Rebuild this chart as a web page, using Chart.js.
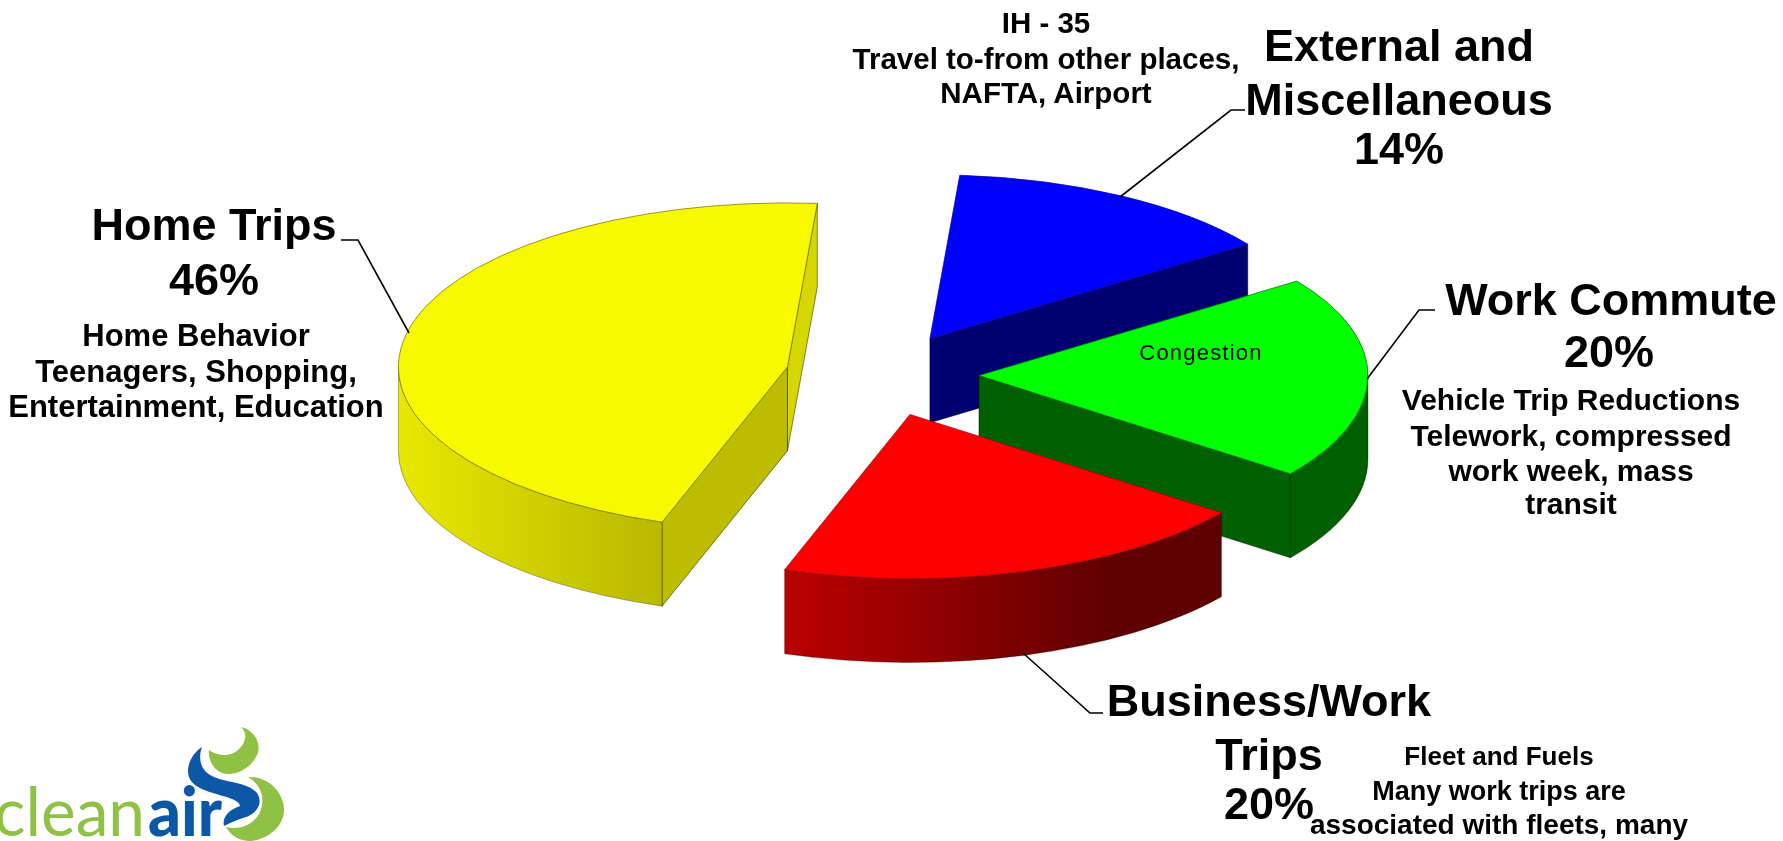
<!DOCTYPE html>
<html>
<head>
<meta charset="utf-8">
<title>Trip shares</title>
<script src="https://cdn.jsdelivr.net/npm/chart.js@4"></script>
<style>
    html, body { margin: 0; padding: 0; background: #fff; overflow: hidden; }
    #wrap { position: relative; width: 1783px; height: 841px; overflow: hidden; }
    #pie, #notes { position: absolute; left: 0; top: 0; }
    #notes text { font-family: "Liberation Sans", Arial, sans-serif; font-weight: bold; text-anchor: middle; fill: #000; }
</style>
</head>
<body>
<div id="wrap">
    <canvas id="pie" width="1783" height="841"></canvas>
    <svg id="notes" width="1783" height="841" xmlns="http://www.w3.org/2000/svg"></svg>
</div>
<script>
const categories = ['Home Trips', 'External and Miscellaneous', 'Work Commute', 'Business/Work Trips'];
const shares = [46, 14, 20, 20];

// text blocks around the pie: [center x, baseline y, font size, text]
const captions = [
    [214, 240, 45, 'Home Trips'],
    [214, 295, 45, '46%'],
    [196, 346, 31, 'Home Behavior'],
    [196, 382, 31, 'Teenagers, Shopping,'],
    [196, 417, 31, 'Entertainment, Education'],
    [1046, 33, 29.5, 'IH - 35'],
    [1046, 69, 29.5, 'Travel to-from other places,'],
    [1046, 103, 29.5, 'NAFTA, Airport'],
    [1399, 61, 45, 'External and'],
    [1399, 115, 45, 'Miscellaneous'],
    [1399, 164, 45, '14%'],
    [1611, 315, 45, 'Work Commute'],
    [1609, 367, 45, '20%'],
    [1571, 410, 30, 'Vehicle Trip Reductions'],
    [1571, 446, 30, 'Telework, compressed'],
    [1571, 481, 30, 'work week, mass'],
    [1571, 514, 30, 'transit'],
    [1269, 716, 45, 'Business/Work'],
    [1269, 770, 45, 'Trips'],
    [1269, 819, 45, '20%'],
    [1499, 765, 26, 'Fleet and Fuels'],
    [1499, 800, 27, 'Many work trips are'],
    [1499, 834, 28, 'associated with fleets, many']
];

// leader lines from the slices to their captions
const leaders = [
    [[409, 333], [358, 240], [341, 240]],
    [[1120, 197], [1231, 110], [1245, 110]],
    [[1367, 379], [1419, 310], [1435, 310]],
    [[1023, 653], [1090, 713], [1103, 713]]
];

const topColors = ['#f8f800', '#0000ff', '#00ff00', '#ff0000'];
const edgeColors = ['#6f6f00', '#0000a0', '#007000', '#a00000'];
const startWall = ['#bdbd00', '#000070', '#006000', '#600000'];
const endWall = ['#d6d600', '#000070', '#006000', '#600000'];
const rimLeft = ['#e8e800', '#000070', '#006000', '#bb0000'];
const rimRight = ['#b8b800', '#000070', '#006000', '#600000'];

const SQUASH = 0.4216;   // tilt of the pie
const DEPTH = 84;        // wall height
const explode = [95.5, 99, 98, 98];   // how far each slice is pulled out

const pie3d = {
    id: 'pie3d',
    beforeDatasetsDraw(chart) {
        const ctx = chart.ctx;
        chart.getDatasetMeta(0).data.forEach((arc, i) => {
            const mid = (arc.startAngle + arc.endAngle) / 2;
            const cx = arc.x + Math.cos(mid) * explode[i];
            const cy = arc.y + Math.sin(mid) * explode[i] * SQUASH;
            const r = arc.outerRadius;
            const ry = r * SQUASH;
            const px = a => cx + Math.cos(a) * r;
            const py = a => cy + Math.sin(a) * ry;

            ctx.save();
            ctx.lineWidth = 1;
            ctx.strokeStyle = 'rgba(0,0,0,0.45)';

            const cutWall = (a, color) => {
                ctx.beginPath();
                ctx.moveTo(cx, cy);
                ctx.lineTo(px(a), py(a));
                ctx.lineTo(px(a), py(a) + DEPTH);
                ctx.lineTo(cx, cy + DEPTH);
                ctx.closePath();
                ctx.fillStyle = color;
                ctx.fill();
                ctx.stroke();
            };
            if (Math.cos(arc.endAngle) > 0) cutWall(arc.endAngle, endWall[i]);
            if (Math.cos(arc.startAngle) < 0) cutWall(arc.startAngle, startWall[i]);

            // outer rim, only the part that faces the viewer
            const tau = Math.PI * 2;
            let a1 = arc.startAngle, a2 = arc.endAngle;
            while (a1 > Math.PI) { a1 -= tau; a2 -= tau; }
            while (a1 < -Math.PI) { a1 += tau; a2 += tau; }
            a1 = Math.max(a1, 0);
            a2 = Math.min(a2, Math.PI);
            if (a2 > a1) {
                const x1 = Math.min(px(a1), px(a2));
                const x2 = Math.max(px(a1), px(a2));
                const grad = ctx.createLinearGradient(x1, 0, x2 - (i === 3 ? 115 : 0), 0);
                grad.addColorStop(0, rimLeft[i]);
                grad.addColorStop(1, rimRight[i]);
                ctx.beginPath();
                ctx.ellipse(cx, cy, r, ry, 0, a1, a2);
                ctx.ellipse(cx, cy + DEPTH, r, ry, 0, a2, a1, true);
                ctx.closePath();
                ctx.fillStyle = grad;
                ctx.fill();
                ctx.strokeStyle = 'rgba(0,0,0,0.3)';
                ctx.stroke();
            }

            // top face is the library's own arc, squashed and moved out
            ctx.translate(cx, cy);
            ctx.scale(1, SQUASH);
            ctx.translate(-arc.x, -arc.y);
            arc.draw(ctx);
            ctx.restore();
        });
        return false;
    },
    afterDraw(chart) {
        const ctx = chart.ctx;
        ctx.save();
        ctx.strokeStyle = '#000';
        ctx.lineWidth = 1.6;
        leaders.forEach(pts => {
            ctx.beginPath();
            pts.forEach((p, i) => i ? ctx.lineTo(p[0], p[1]) : ctx.moveTo(p[0], p[1]));
            ctx.stroke();
        });
        ctx.restore();
    }
};

new Chart(document.getElementById('pie'), {
    type: 'pie',
    data: {
        labels: categories,
        datasets: [{
            data: shares,
            backgroundColor: topColors,
            borderColor: edgeColors,
            borderWidth: 1
        }]
    },
    options: {
        responsive: false,
        animation: false,
        rotation: 198.8,
        radius: 389,
        layout: { padding: { left: 0, right: 21, top: 0, bottom: 91 } },
        plugins: { legend: { display: false }, tooltip: { enabled: false } }
    },
    plugins: [pie3d]
});

// captions
const svg = document.getElementById('notes');
const NS = 'http://www.w3.org/2000/svg';
captions.forEach(c => {
    const t = document.createElementNS(NS, 'text');
    t.setAttribute('x', c[0]);
    t.setAttribute('y', c[1]);
    t.setAttribute('font-size', c[2]);
    t.textContent = c[3];
    svg.appendChild(t);
});
const congestion = document.createElementNS(NS, 'text');
congestion.setAttribute('x', 1201);
congestion.setAttribute('y', 360);
congestion.setAttribute('font-size', 22);
congestion.setAttribute('style', 'font-weight:normal;letter-spacing:1.2px');
congestion.textContent = 'Congestion';
svg.appendChild(congestion);

// logo
svg.insertAdjacentHTML('beforeend', `
    <path fill="#8fc144" d="M241,727 C255,730 262,745 257,755 C250,770 232,778 220,772 C212,768 208,758 209,750 C215,755 230,758 238,750 C246,743 248,733 241,727Z"/>
    <path fill="#8fc144" d="M248,777 C268,776 284,792 284,810 C284,826 268,840 250,841 C240,841 231,836 226,827 C238,830 252,826 259,814 C266,800 262,785 248,777Z"/>
    <path fill="#0c58a6" d="M202,747 C198,758 200,770 212,776 C226,783 248,782 257,793 C264,804 256,815 243,818 C236,820 230,823 224,826 C222,818 228,810 240,806 C240,800 226,797 213,793 C200,789 188,784 188,771 C188,762 194,752 202,747Z"/>
    <text x="-6" y="836" textLength="151" lengthAdjust="spacingAndGlyphs" style="font-family:Lato,sans-serif;font-weight:400;font-size:68px;text-anchor:start;fill:#8fc144">clean</text>
    <text x="148" y="836" textLength="74" lengthAdjust="spacingAndGlyphs" style="font-family:Lato,sans-serif;font-weight:900;font-size:68px;text-anchor:start;fill:#0c58a6">air</text>
`);
</script>
</body>
</html>
